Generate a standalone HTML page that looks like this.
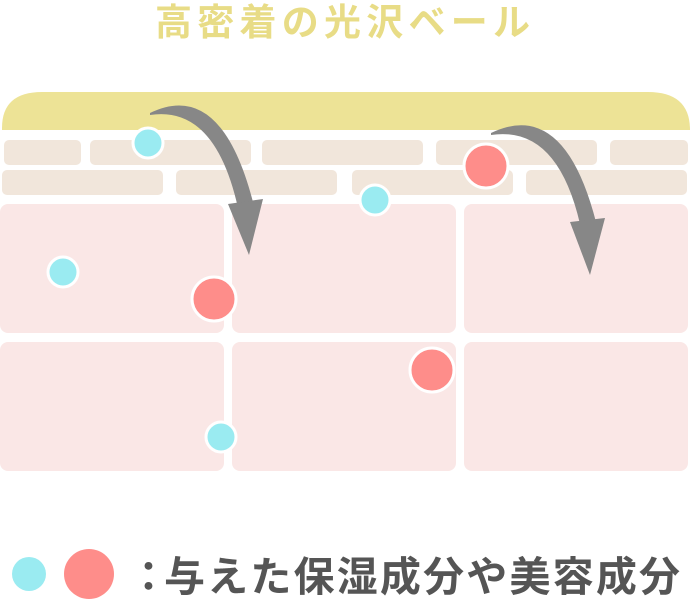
<!DOCTYPE html>
<html><head><meta charset="utf-8"><style>html,body{margin:0;padding:0;background:#fff}svg{display:block}</style></head>
<body>
<svg width="690" height="602" viewBox="0 0 690 602" xmlns="http://www.w3.org/2000/svg">
<text x="155" y="35" font-family="Liberation Sans, Noto Sans CJK JP, sans-serif" font-size="37" font-weight="bold" fill="#e8dc86" textLength="375" lengthAdjust="spacing">高密着の光沢ベール</text>
<path d="M2 130 L2 128 Q2 92 42 92 L648 92 Q690 92 690 130 Z" fill="#ede396"/>
<g fill="#f1e6db">
<rect x="4" y="140" width="77" height="25" rx="5"/>
<rect x="90" y="140" width="161" height="25" rx="5"/>
<rect x="262" y="140" width="161" height="25" rx="5"/>
<rect x="436" y="140" width="161" height="25" rx="5"/>
<rect x="610" y="140" width="78" height="25" rx="5"/>
<rect x="2" y="170" width="161" height="25" rx="5"/>
<rect x="176" y="170" width="161" height="25" rx="5"/>
<rect x="352" y="170" width="161" height="25" rx="5"/>
<rect x="526" y="170" width="161" height="25" rx="5"/>
</g>
<g fill="#fae7e6">
<rect x="0" y="204" width="224" height="129" rx="8"/>
<rect x="232" y="204" width="224" height="129" rx="8"/>
<rect x="464" y="204" width="224" height="129" rx="8"/>
<rect x="0" y="342" width="224" height="129" rx="8"/>
<rect x="232" y="342" width="224" height="129" rx="8"/>
<rect x="464" y="342" width="224" height="129" rx="8"/>
</g>
<g fill="#878787">
<path d="M150 113 Q222 78 254 206 L238 208 Q215 105 150 115 Z"/>
<path d="M491 133 Q564 98 596 222 L580 224 Q557 125 491 135 Z"/>
<polygon points="228,204 263,199 249,255"/>
<polygon points="570,222 605,218 590,275"/>
</g>
<g stroke="#fff" stroke-width="3">
<circle cx="148" cy="143" r="15" fill="#9aebf1"/>
<circle cx="375" cy="200" r="15" fill="#9aebf1"/>
<circle cx="63" cy="272" r="15" fill="#9aebf1"/>
<circle cx="221" cy="437" r="15" fill="#9aebf1"/>
<circle cx="486" cy="166" r="22" fill="#fe8d8a"/>
<circle cx="214" cy="299" r="22" fill="#fe8d8a"/>
<circle cx="432" cy="370" r="22" fill="#fe8d8a"/>
</g>
<circle cx="29" cy="574" r="17" fill="#9aebf1"/>
<circle cx="89" cy="574" r="25" fill="#fe8d8a"/>
<g font-family="Liberation Sans, Noto Sans CJK JP, sans-serif" font-size="41" font-weight="bold" fill="#555">
<text x="128" y="591">：</text>
<text x="164" y="591" textLength="516" lengthAdjust="spacing">与えた保湿成分や美容成分</text>
</g>
</svg>
</body></html>
